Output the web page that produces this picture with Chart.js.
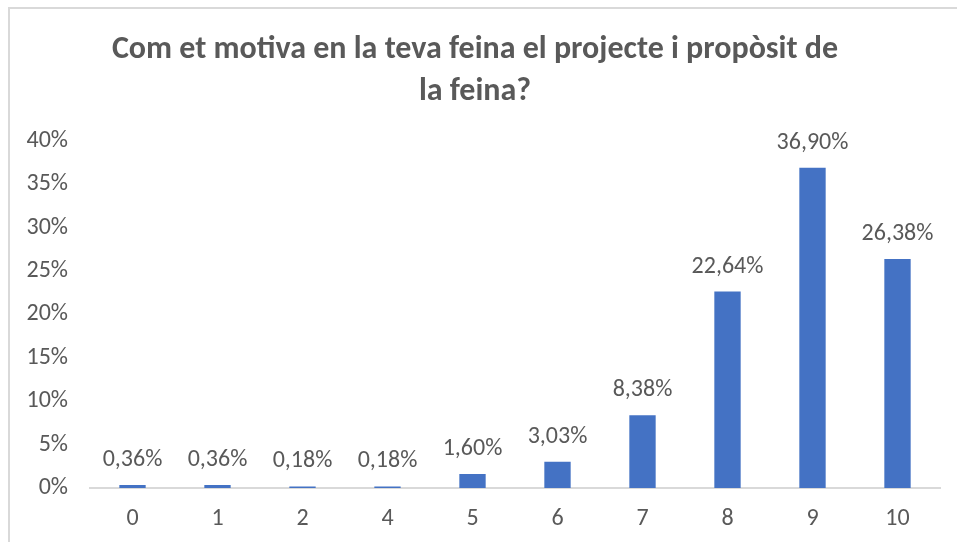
<!DOCTYPE html>
<html>
<head>
<meta charset="utf-8">
<script src="https://cdn.jsdelivr.net/npm/chart.js@4"></script>
<style>
  html, body { margin: 0; padding: 0; background: #fff; }
  #wrap { width: 957px; height: 542px; }
</style>
</head>
<body>
<div id="wrap"><canvas id="chart" width="957" height="542"></canvas></div>
<script>
// values
const categories = ['0', '1', '2', '4', '5', '6', '7', '8', '9', '10'];
const percentages = [0.36, 0.36, 0.18, 0.18, 1.60, 3.03, 8.38, 22.64, 36.90, 26.38];
const yTicks = [0, 5, 10, 15, 20, 25, 30, 35, 40];

const textColor = '#595959';
const fontFamily = "Carlito, Calibri, 'Noto Sans', sans-serif";

// comma decimal, like the original
const fmt = (v) => v.toFixed(2).replace('.', ',') + '%';

// outer frame (top + left edge of the cropped chart box)
const framePlugin = {
  id: 'frame',
  beforeDraw(chart) {
    const ctx = chart.ctx;
    ctx.save();
    ctx.strokeStyle = '#d9d9d9';
    ctx.lineWidth = 2;
    ctx.beginPath();
    ctx.moveTo(9, 542);
    ctx.lineTo(9, 8);
    ctx.lineTo(957, 8);
    ctx.stroke();
    ctx.restore();
  }
};

// value labels above each bar
const valueLabels = {
  id: 'valueLabels',
  afterDatasetsDraw(chart) {
    const ctx = chart.ctx;
    const meta = chart.getDatasetMeta(0);
    ctx.save();
    ctx.fillStyle = textColor;
    ctx.font = '24px ' + fontFamily;
    ctx.textAlign = 'center';
    ctx.textBaseline = 'middle';
    meta.data.forEach((bar, i) => {
      ctx.fillText(fmt(percentages[i]), bar.x, bar.y - 25);
    });
    ctx.restore();
  }
};

new Chart(document.getElementById('chart'), {
  type: 'bar',
  data: {
    labels: categories,
    datasets: [{
      data: percentages,
      backgroundColor: '#4472C4',
      barPercentage: 0.31,
      categoryPercentage: 1.0
    }]
  },
  options: {
    responsive: false,
    animation: false,
    layout: { padding: { left: 10, right: 17, top: 0, bottom: 4 } },
    plugins: {
      legend: { display: false },
      tooltip: { enabled: false },
      title: {
        display: true,
        text: ['Com et motiva en la teva feina el projecte i propòsit de', 'la feina?'],
        color: textColor,
        font: { family: fontFamily, size: 32, weight: 'bold', lineHeight: 1.31 },
        padding: { top: 29, bottom: 28 }
      }
    },
    scales: {
      x: {
        afterFit(scale) { scale.height = 50; },
        grid: { display: false, drawTicks: false },
        border: { color: '#d9d9d9', width: 2 },
        ticks: { color: textColor, font: { family: fontFamily, size: 24 }, padding: 17 }
      },
      y: {
        min: 0,
        max: 40,
        afterFit(scale) { scale.width = 80; },
        afterBuildTicks(scale) { scale.ticks = yTicks.map(v => ({ value: v })); },
        grid: { display: false, drawTicks: false },
        border: { display: false },
        ticks: {
          color: textColor,
          font: { family: fontFamily, size: 24 },
          padding: 22,
          callback: (v) => v + '%'
        }
      }
    }
  },
  plugins: [framePlugin, valueLabels]
});
</script>
</body>
</html>
